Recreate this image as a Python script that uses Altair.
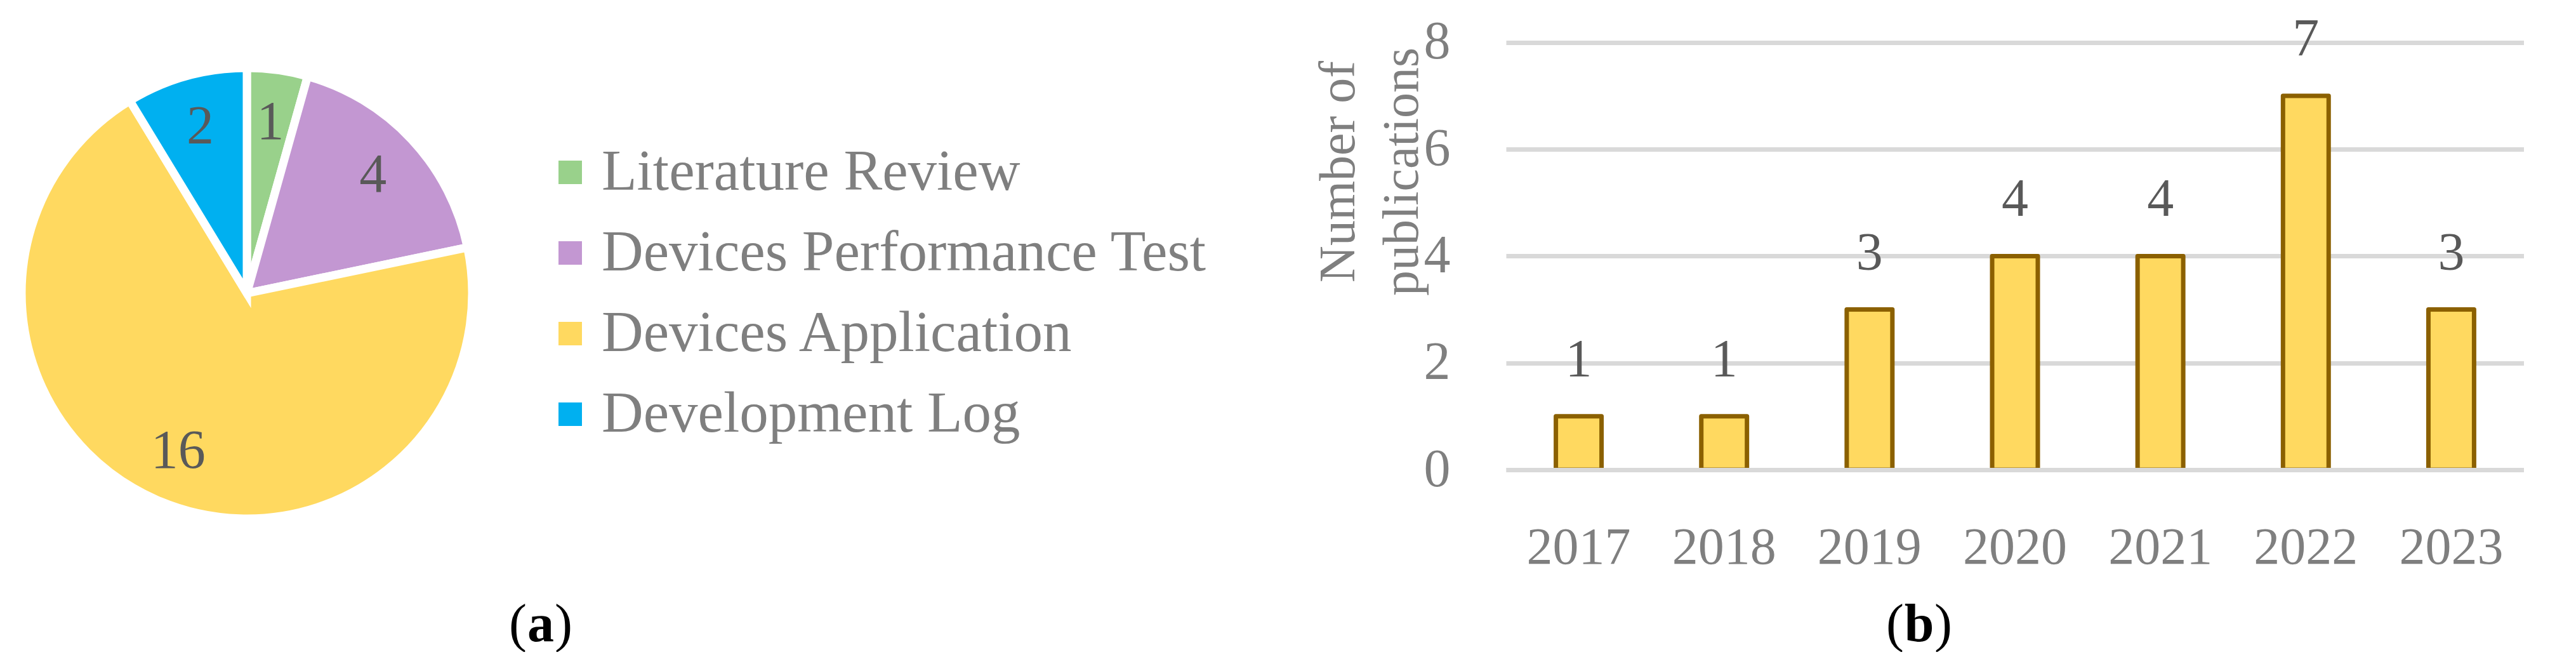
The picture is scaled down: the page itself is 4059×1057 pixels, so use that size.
import altair as alt
import pandas as pd

# ---- data (a): publication types ----
categories = ["Literature Review", "Devices Performance Test", "Devices Application", "Development Log"]
counts = [1, 4, 16, 2]
pie_colors = ["#99D18B", "#C397D2", "#FFD960", "#00B0F0"]

# ---- data (b): publications per year ----
years = ["2017", "2018", "2019", "2020", "2021", "2022", "2023"]
pubs = [1, 1, 3, 4, 4, 7, 3]
y_ticks = [0, 2, 4, 6, 8]
y_title = ["Number of", "publications"]

FONT = "Liberation Serif"
GREY = "#7f7f7f"
DARK = "#595959"

pie_df = pd.DataFrame({"category": categories, "count": counts, "order": list(range(len(categories)))})
bar_df = pd.DataFrame({"year": years, "pubs": pubs})
one = alt.Data(values=[{"k": 1}])

# ---------------- panel (a) ----------------
pie_base = alt.Chart(pie_df).encode(
    theta=alt.Theta("count:Q", stack=True),
    order=alt.Order("order:Q"),
    x=alt.value(378),
    y=alt.value(454),
)

arcs = pie_base.mark_arc(outerRadius=355, stroke="white", strokeWidth=13).encode(
    color=alt.Color(
        "category:N",
        scale=alt.Scale(domain=categories, range=pie_colors),
        sort=categories,
        legend=alt.Legend(
            orient="none", legendX=842, legendY=218, title=None,
            symbolType="square", symbolSize=1369, symbolStrokeWidth=0, symbolOpacity=1,
            labelFont=FONT, labelFontSize=91, labelColor=GREY, labelLimit=0,
            labelOffset=4, rowPadding=35, padding=0,
        ),
    )
)

pie_labels = pie_base.mark_text(radius=272, font=FONT, fontSize=86, color=DARK).encode(
    text="count:Q"
)

def caption(letter, cx, half):
    lp = alt.Chart(one).mark_text(text="(", font=FONT, fontSize=84, color="black", align="right",
                                  baseline="alphabetic").encode(x=alt.value(cx - half), y=alt.value(1002))
    mid = alt.Chart(one).mark_text(text=letter, font=FONT, fontSize=84, fontWeight="bold", color="black",
                                   align="center", baseline="alphabetic").encode(x=alt.value(cx), y=alt.value(1002))
    rp = alt.Chart(one).mark_text(text=")", font=FONT, fontSize=84, color="black", align="left",
                                  baseline="alphabetic").encode(x=alt.value(cx + half), y=alt.value(1002))
    return [lp, mid, rp]

pie_panel = alt.layer(arcs, pie_labels, *caption("a", 841, 22)).properties(width=2000, height=732)

# ---------------- panel (b) ----------------
bar_base = alt.Chart(bar_df).encode(
    x=alt.X(
        "year:N",
        sort=years,
        scale=alt.Scale(paddingInner=0.686, paddingOuter=0.343),
        axis=alt.Axis(
            title=None, labelAngle=0, grid=False, domain=True, domainColor="#d9d9d9", domainWidth=7,
            ticks=False, tickSize=0, labelFont=FONT, labelFontSize=82, labelColor=GREY,
            labelPadding=147, labelBaseline="alphabetic", zindex=1,
        ),
    ),
    y=alt.Y(
        "pubs:Q",
        scale=alt.Scale(domain=[0, 8.7], nice=False),
        axis=alt.Axis(
            values=y_ticks, title=y_title, grid=True, gridColor="#d9d9d9", gridWidth=7,
            domain=False, ticks=False, tickSize=0,
            labelFont=FONT, labelFontSize=84, labelColor=GREY, labelPadding=88,
            titleFont=FONT, titleFontSize=80, titleFontWeight="normal", titleColor=GREY,
            titleAngle=270, titleAlign="center", titleBaseline="alphabetic", titleLineHeight=100,
            titleX=-240, titleY=262, zindex=0,
        ),
    ),
)

bars = bar_base.mark_bar(color="#FFD960", stroke="#8B6000", strokeWidth=7, strokeJoin="round")
values = bar_base.mark_text(baseline="alphabetic", dy=-63, font=FONT, fontSize=84, color=DARK).encode(
    text="pubs:Q"
)

bar_panel = alt.layer(bars, values, *caption("b", 651, 24)).properties(width=1604, height=732)

chart = (
    alt.hconcat(pie_panel, bar_panel, spacing=362, bounds="flush")
    .properties(padding=0)
    .configure_view(stroke=None)
)

chart.save("out.html", embed_options={"renderer": "svg", "actions": False})
